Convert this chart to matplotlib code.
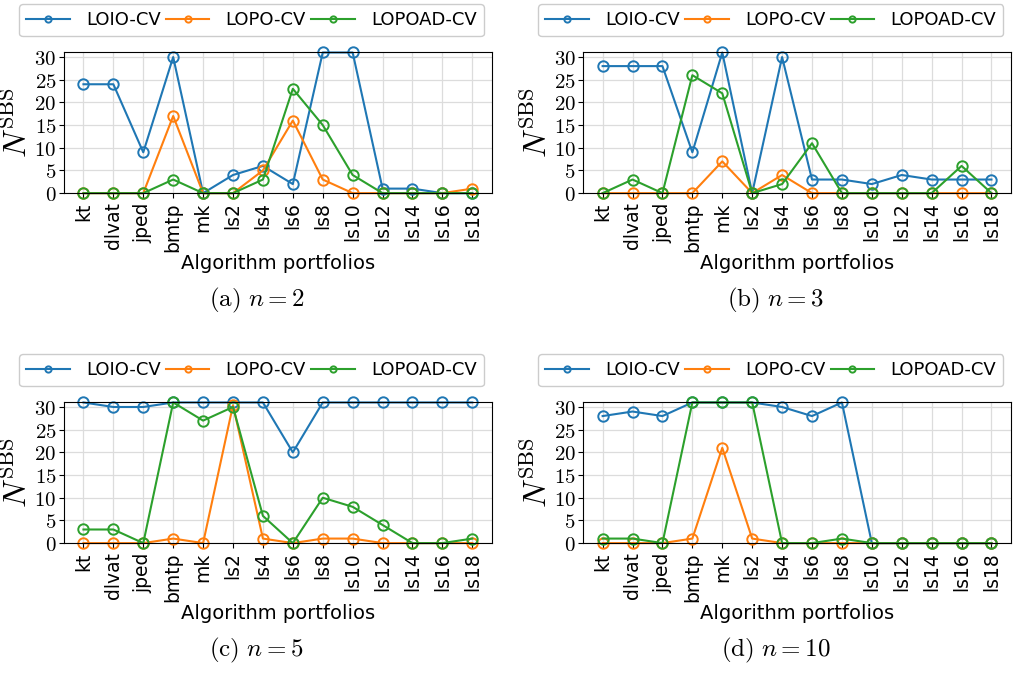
import matplotlib
matplotlib.use("Agg")
import matplotlib.pyplot as plt

plt.rcParams['mathtext.fontset'] = 'cm'
plt.rcParams['font.family'] = 'DejaVu Sans'

portfolios = ['kt', 'dlvat', 'jped', 'bmtp', 'mk', 'ls2', 'ls4', 'ls6', 'ls8',
              'ls10', 'ls12', 'ls14', 'ls16', 'ls18']
methods = ['LOIO-CV', 'LOPO-CV', 'LOPOAD-CV']
colors = ['#1f77b4', '#ff7f0e', '#2ca02c']

# N^SBS per portfolio, one list per method, for each n
loio_n2 = [24, 24, 9, 30, 0, 4, 6, 2, 31, 31, 1, 1, 0, 0]
lopo_n2 = [0, 0, 0, 17, 0, 0, 5, 16, 3, 0, 0, 0, 0, 1]
lopoad_n2 = [0, 0, 0, 3, 0, 0, 3, 23, 15, 4, 0, 0, 0, 0]

loio_n3 = [28, 28, 28, 9, 31, 0, 30, 3, 3, 2, 4, 3, 3, 3]
lopo_n3 = [0, 0, 0, 0, 7, 0, 4, 0, 0, 0, 0, 0, 0, 0]
lopoad_n3 = [0, 3, 0, 26, 22, 0, 2, 11, 0, 0, 0, 0, 6, 0]

loio_n5 = [31, 30, 30, 31, 31, 31, 31, 20, 31, 31, 31, 31, 31, 31]
lopo_n5 = [0, 0, 0, 1, 0, 30.4, 1, 0, 1, 1, 0, 0, 0, 0]
lopoad_n5 = [3, 3, 0, 31, 27, 30, 6, 0, 10, 8, 4, 0, 0, 1]

loio_n10 = [28, 29, 28, 31, 31, 31, 30, 28, 31, 0, 0, 0, 0, 0]
lopo_n10 = [0, 0, 0, 1, 21, 1, 0, 0, 0, 0, 0, 0, 0, 0]
lopoad_n10 = [1, 1, 0, 31, 31, 31, 0, 0, 1, 0, 0, 0, 0, 0]

panels = [
    ('(a)', 2, [loio_n2, lopo_n2, lopoad_n2]),
    ('(b)', 3, [loio_n3, lopo_n3, lopoad_n3]),
    ('(c)', 5, [loio_n5, lopo_n5, lopoad_n5]),
    ('(d)', 10, [loio_n10, lopo_n10, lopoad_n10]),
]

fig = plt.figure(figsize=(10.16, 6.73), dpi=100)
lefts = [0.063, 0.574]
bottoms = [0.713, 0.193]
w, h = 0.421, 0.209

for i, (tag, n, series) in enumerate(panels):
    left = lefts[i % 2]
    bottom = bottoms[i // 2]
    ax = fig.add_axes([left, bottom, w, h])
    x = list(range(len(portfolios)))
    for name, vals, c in zip(methods, series, colors):
        ax.plot(x, vals, color=c, marker='o', markersize=7.5, markerfacecolor='none',
                markeredgewidth=1.4, linewidth=1.5, label=name, clip_on=False)
    ax.set_ylim(0, 31)
    ax.set_xlim(-0.65, len(portfolios) - 0.35)
    ax.set_xticks(x)
    ax.set_xticklabels(portfolios, rotation=90, fontsize=13.5)
    yt = [0, 5, 10, 15, 20, 25, 30]
    ax.set_yticks(yt)
    ax.set_yticklabels([f'${v}$' for v in yt], fontsize=15)
    ax.tick_params(axis='y', pad=2)
    ax.tick_params(axis='x', pad=3)
    ax.grid(True, color='#dcdcdc', linewidth=0.9)
    ax.set_axisbelow(True)
    ax.set_ylabel(r'$N^{\mathrm{SBS}}$', fontsize=23, labelpad=0)
    ax.set_xlabel('Algorithm portfolios', fontsize=14, labelpad=2)
    ax.legend(loc='lower right', bbox_to_anchor=(1.003, 1.05), ncol=3, fontsize=13,
              handlelength=2.4, handletextpad=0.9, columnspacing=0.3, markerscale=0.6,
              borderpad=0.4, fancybox=True, framealpha=1.0, edgecolor='#cccccc')
    cx = left + w / 2 - 0.021
    cy = bottom - 0.16
    fig.text(cx, cy, r'$\mathrm{%s}\ n=%d$' % (tag, n), ha='center', va='center', fontsize=18)

fig.savefig('out.png', dpi=100)
